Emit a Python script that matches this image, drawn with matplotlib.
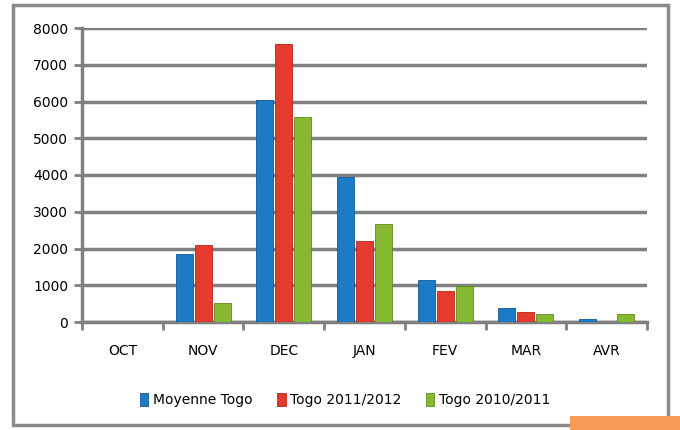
import numpy as np
import matplotlib
matplotlib.use("Agg")
from matplotlib import pyplot as plt
from matplotlib.patches import Rectangle

months = ["OCT", "NOV", "DEC", "JAN", "FEV", "MAR", "AVR"]
moyenne_togo = [10, 1860, 6050, 3950, 1150, 390, 90]
togo_2011_2012 = [10, 2100, 7560, 2200, 850, 260, 0]
togo_2010_2011 = [10, 510, 5570, 2680, 970, 205, 205]
series_names = ["Moyenne Togo", "Togo 2011/2012", "Togo 2010/2011"]
yticks = [0, 1000, 2000, 3000, 4000, 5000, 6000, 7000, 8000]

colors = ["#1b7bc6", "#e53b2e", "#86b832"]
edges = ["#0f5a99", "#b82418", "#5f8a1c"]

fig = plt.figure(figsize=(6.8, 4.3), dpi=100)
# outer frame of the chart
fig.patches.append(Rectangle((13/680, 5/430), 655/680, 420/430, transform=fig.transFigure,
                             fill=False, edgecolor="#8a8a8a", linewidth=2.5))
fig.patches.append(Rectangle((570/680, 0), 110/680, 14/430, transform=fig.transFigure,
                             facecolor="#f59b55", edgecolor="none"))

ax = fig.add_axes([82/680, 108/430, 565/680, 294/430])
x = np.arange(len(months))
w = 0.21
step = 0.235
for i, vals in enumerate([moyenne_togo, togo_2011_2012, togo_2010_2011]):
    ax.bar(x + (i - 1) * step, vals, width=w, color=colors[i], edgecolor=edges[i],
           linewidth=0.6, label=series_names[i], zorder=3)

ax.set_xlim(-0.5, len(months) - 0.5)
ax.set_ylim(0, 8000)
ax.set_yticks(yticks)
ax.set_yticklabels([str(t) for t in yticks], fontsize=10)
ax.set_xticks(x)
ax.set_xticklabels(months, fontsize=10)
ax.tick_params(axis="x", length=0, pad=16)
ax.tick_params(axis="y", length=6, width=2, color="#808080", pad=4)
ax.set_xticks(np.arange(-0.5, len(months)), minor=True)
ax.tick_params(axis="x", which="minor", length=6, width=2, color="#808080")
ax.yaxis.grid(True, color="#808080", linewidth=2.5, zorder=0)
ax.set_axisbelow(True)
for s in ["top", "right"]:
    ax.spines[s].set_visible(False)
ax.spines["left"].set_color("#808080")
ax.spines["left"].set_linewidth(2.5)
ax.spines["bottom"].set_color("#808080")
ax.spines["bottom"].set_linewidth(2.5)

fig.legend(loc="center", bbox_to_anchor=(345/680, 1 - 400/430), ncol=3, frameon=False,
           fontsize=10, handlelength=0.6, handleheight=1.1, handletextpad=0.3, columnspacing=1.8)

plt.savefig("out.png", dpi=100)
